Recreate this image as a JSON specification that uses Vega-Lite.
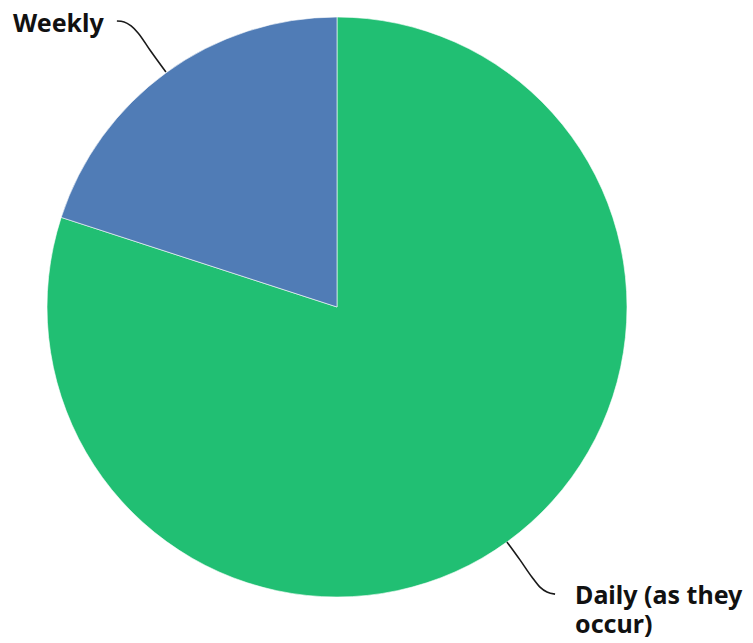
{
  "$schema": "https://vega.github.io/schema/vega-lite/v6.json",
  "width": 674,
  "height": 614,
  "padding": 0,
  "autosize": {"type": "pad"},
  "background": "#ffffff",
  "config": {"view": {"stroke": null}},
  "datasets": {
    "slices": [
      {"answer": "Daily (as they occur)", "share": 80, "rank": 1},
      {"answer": "Weekly", "share": 20, "rank": 2}
    ],
    "connectors": [
      {"answer": "Weekly", "i": 1, "cx": -0.759, "cy": 0.986},
      {"answer": "Weekly", "i": 2, "cx": -0.734, "cy": 0.983},
      {"answer": "Weekly", "i": 3, "cx": -0.710, "cy": 0.969},
      {"answer": "Weekly", "i": 4, "cx": -0.686, "cy": 0.945},
      {"answer": "Weekly", "i": 5, "cx": -0.645, "cy": 0.886},
      {"answer": "Weekly", "i": 6, "cx": -0.590, "cy": 0.810},
      {"answer": "Daily (as they occur)", "i": 1, "cx": 0.586, "cy": -0.810},
      {"answer": "Daily (as they occur)", "i": 2, "cx": 0.631, "cy": -0.872},
      {"answer": "Daily (as they occur)", "i": 3, "cx": 0.672, "cy": -0.931},
      {"answer": "Daily (as they occur)", "i": 4, "cx": 0.700, "cy": -0.966},
      {"answer": "Daily (as they occur)", "i": 5, "cx": 0.724, "cy": -0.983},
      {"answer": "Daily (as they occur)", "i": 6, "cx": 0.752, "cy": -0.990}
    ],
    "labels": [
      {"label": "Weekly", "lx": -1.117, "ly": 0.948},
      {"label": "Daily (as they\noccur)", "lx": 0.821, "ly": -1.024}
    ]
  },
  "layer": [
    {
      "data": {"name": "slices"},
      "mark": {"type": "arc", "outerRadius": 290, "stroke": "#ffffff", "strokeWidth": 0.6},
      "encoding": {
        "theta": {"field": "share", "type": "quantitative", "stack": true},
        "order": {"field": "rank", "type": "quantitative"},
        "color": {
          "field": "answer",
          "type": "nominal",
          "scale": {"domain": ["Daily (as they occur)", "Weekly"], "range": ["#21BF73", "#507CB6"]},
          "legend": null
        }
      }
    },
    {
      "data": {"name": "connectors"},
      "mark": {"type": "line", "interpolate": "monotone", "color": "#1a1a1a", "strokeWidth": 1.6},
      "encoding": {
        "x": {"field": "cx", "type": "quantitative", "scale": {"domain": [-1.1621, 1.1621], "nice": false, "zero": false}, "axis": null},
        "y": {"field": "cy", "type": "quantitative", "scale": {"domain": [-1.0586, 1.0586], "nice": false, "zero": false}, "axis": null},
        "detail": {"field": "answer"},
        "order": {"field": "i", "type": "quantitative"}
      }
    },
    {
      "data": {"name": "labels"},
      "mark": {"type": "text", "align": "left", "baseline": "alphabetic", "lineBreak": "\n", "lineHeight": 29, "font": "Noto Sans", "fontWeight": "bold", "fontSize": 25, "color": "#111111"},
      "encoding": {
        "x": {"field": "lx", "type": "quantitative", "scale": {"domain": [-1.1621, 1.1621], "nice": false, "zero": false}, "axis": null},
        "y": {"field": "ly", "type": "quantitative", "scale": {"domain": [-1.0586, 1.0586], "nice": false, "zero": false}, "axis": null},
        "text": {"field": "label"}
      }
    }
  ]
}
